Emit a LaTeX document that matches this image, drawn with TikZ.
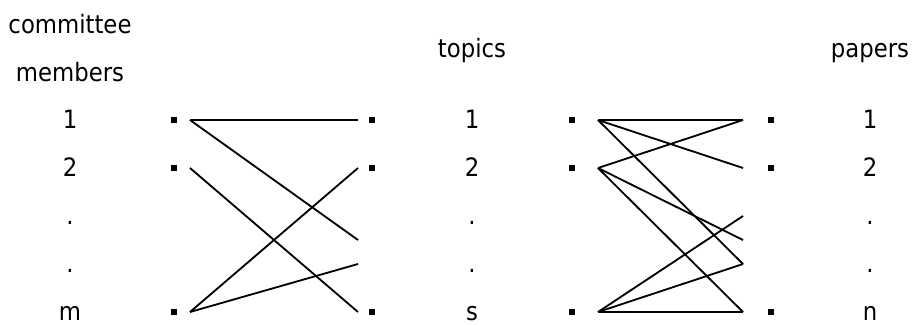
\documentclass[tikz,border=0pt]{standalone}
\usepackage{fontspec}
\setmainfont{DejaVu Sans Condensed}

\begin{document}
\begin{tikzpicture}[x=0.025cm, y=-0.025cm,
    lbl/.style={font=\fontsize{18}{21}\selectfont, anchor=base, inner sep=0pt, text depth=0pt},
    sq/.style={fill=black, inner sep=0pt, minimum size=0.13cm},
    edge/.style={line width=1.3pt}]
    \useasboundingbox (0,0) rectangle (912,324);

    % Column headings
    \node[lbl] (hdcom) at (70,33) {committee};
    \node[lbl] (hdmem) at (70,81) {members};
    \node[lbl] (hdtop) at (472,57) {topics};
    \node[lbl] (hdpap) at (870,57) {papers};

    % Row labels
    \foreach \txt [count=\i] in {1,2,.,.,m}
        \node[lbl] (cl\i) at (70,72+48*\i+8) {\txt};
    \foreach \txt [count=\i] in {1,2,.,.,s}
        \node[lbl] (tl\i) at (472,72+48*\i+8) {\txt};
    \foreach \txt [count=\i] in {1,2,.,.,n}
        \node[lbl] (pl\i) at (870,72+48*\i+8) {\txt};

    % Small squares
    \foreach \i in {1,2,5} {
        \node[sq] (ca\i) at (174,72+48*\i) {};
        \node[sq] (tb\i) at (372,72+48*\i) {};
        \node[sq] (ta\i) at (572,72+48*\i) {};
        \node[sq] (pb\i) at (771,72+48*\i) {};
    }

    % Line ends
    \foreach \i in {1,2,5} {
        \coordinate (cs\i) at (190,72+48*\i);
        \coordinate (ts\i) at (598,72+48*\i);
    }
    \foreach \yy [count=\i] in {120,168,240,264,312}
        \coordinate (te\i) at (358,\yy);
    \foreach \yy [count=\i] in {120,168,216,240,264,312}
        \coordinate (pe\i) at (743,\yy);

    % Members -- topics
    \draw[edge] (cs1) -- (te1);
    \draw[edge] (cs1) -- (te3);
    \draw[edge] (cs2) -- (te5);
    \draw[edge] (cs5) -- (te2);
    \draw[edge] (cs5) -- (te4);

    % Topics -- papers
    \draw[edge] (ts1) -- (pe1);
    \draw[edge] (ts1) -- (pe2);
    \draw[edge] (ts1) -- (pe5);
    \draw[edge] (ts2) -- (pe1);
    \draw[edge] (ts2) -- (pe4);
    \draw[edge] (ts2) -- (pe6);
    \draw[edge] (ts5) -- (pe3);
    \draw[edge] (ts5) -- (pe5);
    \draw[edge] (ts5) -- (pe6);
\end{tikzpicture}
\end{document}
